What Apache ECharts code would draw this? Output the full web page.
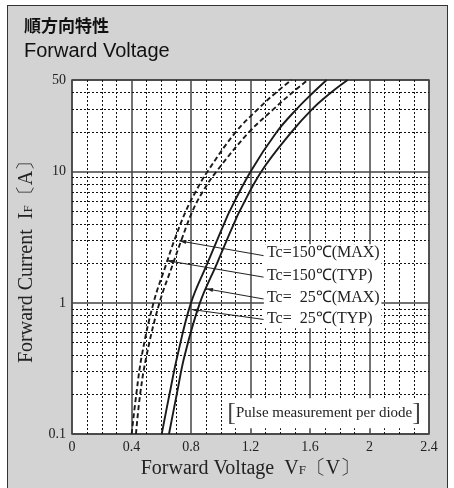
<!DOCTYPE html>
<html><head><meta charset="utf-8">
<script src="https://cdn.jsdelivr.net/npm/echarts@6/dist/echarts.min.js"></script>
<style>
html,body{margin:0;padding:0;background:#fff;}
#frame{position:absolute;left:7px;top:5px;width:441px;height:490px;border:1.5px solid #333;background:#d3d3d3;box-sizing:border-box;}
#c{position:absolute;left:0;top:0;width:454px;height:488px;}
</style>
</head><body><div id="frame"></div><div id="c"></div>
<script>
// ---- data ----
const xTicks = [0, 0.4, 0.8, 1.2, 1.6, 2, 2.4];
const yTicks = [0.1, 1, 10, 50];
const yMinor = [0.2, 0.3, 0.4, 0.5, 0.6, 0.7, 0.8, 0.9, 2, 3, 4, 5, 6, 7, 8, 9, 20, 30, 40];
const curr25 = [0.1, 0.2, 0.4, 1, 2, 3, 4, 5, 10, 20, 30, 40, 50];
const vf25Typ = [0.603, 0.655, 0.71, 0.8, 0.91, 0.975, 1.022, 1.06, 1.2, 1.375, 1.51, 1.62, 1.712];
const vf25Max = [0.652, 0.704, 0.758, 0.86, 0.975, 1.04, 1.088, 1.127, 1.272, 1.475, 1.615, 1.74, 1.853];
const curr150 = [0.1, 0.2, 0.4, 1, 2, 3, 5, 7, 10, 20, 30, 40, 50];
const vf150Typ = [0.401, 0.432, 0.47, 0.548, 0.635, 0.688, 0.765, 0.83, 0.91, 1.1, 1.25, 1.37, 1.475];
const vf150Max = [0.43, 0.458, 0.502, 0.588, 0.68, 0.735, 0.81, 0.878, 0.97, 1.19, 1.355, 1.48, 1.585];
const curveNames = ['Tc=150℃(MAX)', 'Tc=150℃(TYP)', 'Tc=\u200225℃(MAX)', 'Tc=\u200225℃(TYP)'];
const noteText = 'Pulse measurement per diode';

// ---- annotation placement (data coordinates) ----
const labelAnchorV = 1.297;
const labelAnchorI = [2.4, 1.61, 1.1, 0.756];
const leaderStartV = 1.288;
const leaderStartI = [2.29, 1.57, 1.07, 0.747];
const leaderEnd = [[0.721, 2.97], [0.637, 2.1], [0.901, 1.28], [0.805, 0.89]];
const labelBox = [[1.29, 2.8], [2.08, 0.64]];
const noteBox = [[1.03, 0.187], [2.36, 0.1105]];
const noteCenter = [1.695, 0.1436];

const SERIF = '"Liberation Serif", "Times New Roman", serif';
const INK = '#1a1a1a';

const pairs = (vs, is) => vs.map((v, k) => [v, is[k]]);

const chart = echarts.init(document.getElementById('c'), null, {renderer: 'canvas'});

const curveSeries = [
  {name: curveNames[0], d: pairs(vf150Max, curr150), dash: [5, 3]},
  {name: curveNames[1], d: pairs(vf150Typ, curr150), dash: [5, 3]},
  {name: curveNames[2], d: pairs(vf25Max, curr25), dash: 'solid'},
  {name: curveNames[3], d: pairs(vf25Typ, curr25), dash: 'solid'}
].map(s => ({
  type: 'line', name: s.name, data: s.d, symbol: 'none', smooth: 0.4, z: 5,
  lineStyle: {color: INK, width: 1.9, type: s.dash}
}));

chart.setOption({
  animation: false,
  title: {
    text: '順方向特性', subtext: 'Forward Voltage', left: 19, top: 12, itemGap: 7,
    textStyle: {fontFamily: '"Noto Sans CJK JP", sans-serif', fontSize: 17, fontWeight: 'bold', color: '#111'},
    subtextStyle: {fontFamily: '"Liberation Sans", Arial, sans-serif', fontSize: 20, color: '#111'}
  },
  grid: {left: 72, right: 25, top: 80, bottom: 54, show: true, backgroundColor: '#fff', borderColor: '#333', borderWidth: 1.3},
  xAxis: {
    type: 'value', min: 0, max: 2.4, interval: 0.4,
    axisLine: {show: false}, axisTick: {show: false},
    axisLabel: {margin: 6, fontFamily: SERIF, fontSize: 14, color: '#222',
      formatter: v => { const r = Number(v.toFixed(1)); return xTicks.includes(r) ? String(r) : ''; }},
    splitLine: {show: true, lineStyle: {color: '#444', width: 1.5}},
    minorTick: {show: false, splitNumber: 4},
    minorSplitLine: {show: true, lineStyle: {color: '#111', width: 1, type: [2, 2]}},
    name: '{a|Forward Voltage  V}{s|F}{a|〔V〕}', nameLocation: 'middle', nameGap: 19,
    nameTextStyle: {rich: {
      a: {fontFamily: SERIF, fontSize: 20, color: '#222', lineHeight: 22},
      s: {fontFamily: SERIF, fontSize: 13, color: '#222', lineHeight: 22, verticalAlign: 'bottom', padding: [0, 0, 3, 0]}
    }}
  },
  yAxis: {
    type: 'log', logBase: 10, min: 0.1, max: 50,
    axisLine: {show: false}, axisTick: {show: false},
    axisLabel: {margin: 6, fontFamily: SERIF, fontSize: 14, color: '#222', showMinLabel: true, showMaxLabel: true,
      formatter: v => { const r = Number(Number(v).toPrecision(4)); return yTicks.includes(r) ? String(r) : ''; }},
    splitLine: {show: true, lineStyle: {color: '#444', width: 1.5}},
    name: '{a|Forward Current  I}{s|F}{a|〔A〕}', nameLocation: 'middle', nameGap: 30, nameRotate: 90,
    nameTextStyle: {rich: {
      a: {fontFamily: SERIF, fontSize: 20, color: '#222', lineHeight: 22},
      s: {fontFamily: SERIF, fontSize: 13, color: '#222', lineHeight: 22, verticalAlign: 'bottom', padding: [0, 0, 3, 0]}
    }}
  },
  series: [
    {type: 'line', data: [], z: 1,
     markLine: {silent: true, symbol: ['none', 'none'], label: {show: false},
       lineStyle: {color: '#111', width: 1, type: [2, 2]},
       emphasis: {disabled: true},
       data: yMinor.map(v => ({yAxis: v}))}}
  ].concat(curveSeries)
});

// ---- annotations placed through the chart's own scales ----
const px = p => chart.convertToPixel({gridIndex: 0}, p);
const g = [];
const b0 = px(labelBox[0]), b1 = px(labelBox[1]);
g.push({type: 'rect', z: 10, shape: {x: b0[0], y: b0[1], width: b1[0] - b0[0], height: b1[1] - b0[1]}, style: {fill: '#fff'}});
curveNames.forEach((t, k) => {
  const a = px([labelAnchorV, labelAnchorI[k]]);
  g.push({type: 'text', z: 12, style: {text: t, x: a[0] + 2, y: a[1], font: '16px ' + SERIF, fill: '#222', verticalAlign: 'middle', align: 'left'}});
  const s = px([leaderStartV, leaderStartI[k]]);
  const e = px(leaderEnd[k]);
  g.push({type: 'line', z: 12, shape: {x1: s[0], y1: s[1], x2: e[0], y2: e[1]}, style: {stroke: '#222', lineWidth: 1}});
  const dx = e[0] - s[0], dy = e[1] - s[1], L = Math.hypot(dx, dy);
  const ux = dx / L, uy = dy / L, nx = -uy, ny = ux;
  g.push({type: 'polygon', z: 12, shape: {points: [
    [e[0], e[1]],
    [e[0] - ux * 7 + nx * 2, e[1] - uy * 7 + ny * 2],
    [e[0] - ux * 7 - nx * 2, e[1] - uy * 7 - ny * 2]
  ]}, style: {fill: '#222'}});
});
const n0 = px(noteBox[0]), n1 = px(noteBox[1]);
g.push({type: 'rect', z: 10, shape: {x: n0[0], y: n0[1], width: n1[0] - n0[0], height: n1[1] - n0[1]}, style: {fill: '#fff'}});
const nc = px(noteCenter);
g.push({type: 'text', z: 12, style: {
  text: '{b|[}{t|' + noteText + '}{b|]}', x: nc[0], y: nc[1], align: 'center', verticalAlign: 'middle',
  rich: {
    b: {fontFamily: SERIF, fontSize: 26, fill: '#444', fontWeight: 'lighter', lineHeight: 28},
    t: {fontFamily: SERIF, fontSize: 15, fill: '#222', lineHeight: 28}
  }
}});
chart.setOption({graphic: g});
</script>
</body></html>
